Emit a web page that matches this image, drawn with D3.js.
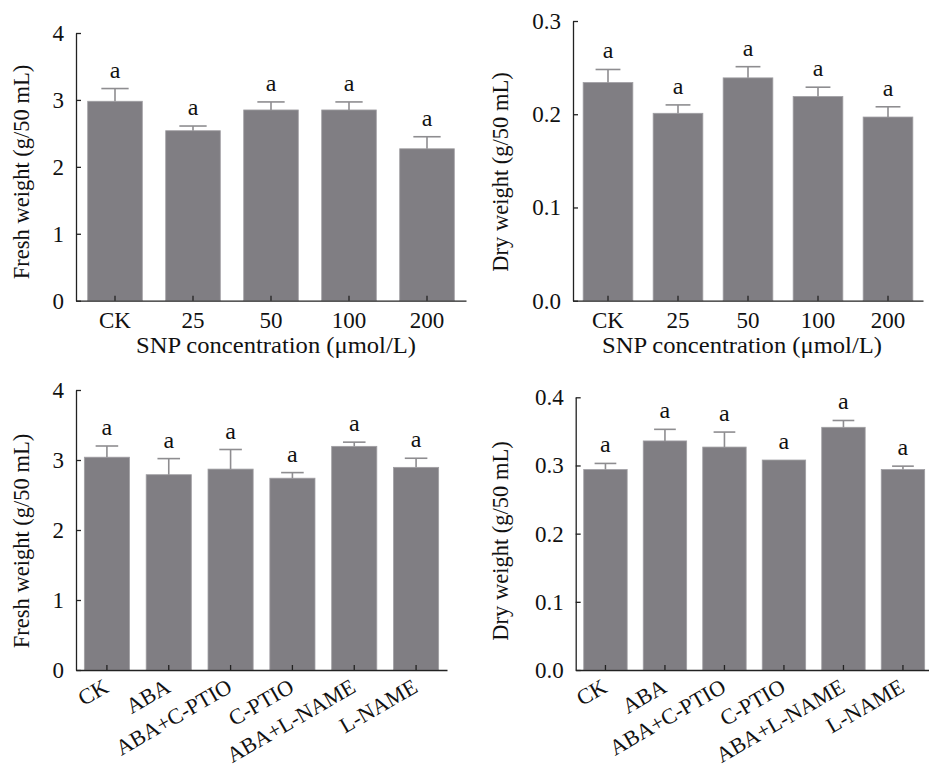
<!DOCTYPE html>
<html>
<head>
<meta charset="utf-8">
<script src="https://cdn.jsdelivr.net/npm/d3@7"></script>
<style>
  body { margin: 0; background: #fff; }
  svg { display: block; font-family: "Liberation Serif", "Times New Roman", serif; }
</style>
</head>
<body>
<div id="chart"></div>
<script>
// Data
var snpLabels = ["CK", "25", "50", "100", "200"];
var freshSNP = [2.98, 2.54, 2.85, 2.85, 2.27];
var freshSNPErr = [0.19, 0.07, 0.12, 0.12, 0.18];
var drySNP = [0.234, 0.201, 0.239, 0.219, 0.197];
var drySNPErr = [0.014, 0.009, 0.012, 0.010, 0.011];

var trtLabels = ["CK", "ABA", "ABA+C-PTIO", "C-PTIO", "ABA+L-NAME", "L-NAME"];
var freshTrt = [3.04, 2.79, 2.87, 2.74, 3.195, 2.895];
var freshTrtErr = [0.16, 0.23, 0.28, 0.08, 0.06, 0.13];
var dryTrt = [0.294, 0.336, 0.327, 0.308, 0.356, 0.294];
var dryTrtErr = [0.009, 0.017, 0.022, 0, 0.010, 0.005];

var freshTicks = [0, 1, 2, 3, 4];
var drySNPTicks = [0, 0.1, 0.2, 0.3];
var dryTrtTicks = [0, 0.1, 0.2, 0.3, 0.4];
var letters = ["a", "a", "a", "a", "a", "a"];

var svg = d3.select("#chart").append("svg")
  .attr("width", 929)
  .attr("height", 770);

var barColor = "#807e83";
var errColor = "#8e8d90";
var fontSize = 23;

//Panel settings: pixel box of each plot area
var panels = [
  { labels: snpLabels, values: freshSNP, errs: freshSNPErr, ticks: freshTicks, fmt: d3.format("d"),
    x0: 76, x1: 466, yTop: 33, yBot: 300.7, pad: 0.3, rotate: false,
    ylabel: "Fresh weight (g/50 mL)", ylx: 29, yly: 172, xlabel: "SNP concentration (\u03bcmol/L)", xlx: 276 },
  { labels: snpLabels, values: drySNP, errs: drySNPErr, ticks: drySNPTicks, fmt: d3.format(".1f"),
    x0: 573, x1: 923, yTop: 21, yBot: 300.7, pad: 0.29, rotate: false,
    ylabel: "Dry weight (g/50 mL)", ylx: 508, yly: 172, xlabel: "SNP concentration (\u03bcmol/L)", xlx: 742 },
  { labels: trtLabels, values: freshTrt, errs: freshTrtErr, ticks: freshTicks, fmt: d3.format("d"),
    x0: 76, x1: 447, yTop: 390, yBot: 670, pad: 0.27, rotate: true,
    ylabel: "Fresh weight (g/50 mL)", ylx: 29, yly: 541 },
  { labels: trtLabels, values: dryTrt, errs: dryTrtErr, ticks: dryTrtTicks, fmt: d3.format(".1f"),
    x0: 575.7, x1: 932.7, yTop: 397.3, yBot: 670, pad: 0.27, rotate: true,
    ylabel: "Dry weight (g/50 mL)", ylx: 508, yly: 541 }
];

panels.forEach(drawPanel);

function drawPanel(p) {
  var data = p.labels.map(function (d, i) {
    return { label: d, value: p.values[i], err: p.errs[i], letter: letters[i] };
  });

  var x = d3.scaleBand().domain(p.labels).range([p.x0, p.x1]).paddingInner(p.pad).paddingOuter(p.pad / 2);
  var y = d3.scaleLinear().domain([0, d3.max(p.ticks)]).range([p.yBot, p.yTop]);
  var g = svg.append("g");

  // bars
  g.selectAll(".bar")
    .data(data)
    .enter()
    .append("rect")
    .attr("x", function (d) { return x(d.label); })
    .attr("y", function (d) { return y(d.value); })
    .attr("width", x.bandwidth())
    .attr("height", function (d) { return y(0) - y(d.value); })
    .style("fill", barColor)
    .style("stroke", "#a09fa3")
    .style("stroke-width", 0.8);

  // error bars (upper only)
  var cap = x.bandwidth() * 0.25;
  var eb = g.selectAll(".err")
    .data(data.filter(function (d) { return d.err > 0; }))
    .enter()
    .append("g");
  eb.append("line")
    .attr("x1", function (d) { return x(d.label) + x.bandwidth() / 2; })
    .attr("x2", function (d) { return x(d.label) + x.bandwidth() / 2; })
    .attr("y1", function (d) { return y(d.value); })
    .attr("y2", function (d) { return y(d.value + d.err); });
  eb.append("line")
    .attr("x1", function (d) { return x(d.label) + x.bandwidth() / 2 - cap; })
    .attr("x2", function (d) { return x(d.label) + x.bandwidth() / 2 + cap; })
    .attr("y1", function (d) { return y(d.value + d.err); })
    .attr("y2", function (d) { return y(d.value + d.err); });
  eb.selectAll("line").style("stroke", errColor).style("stroke-width", 1.6);

  // significance letters
  g.selectAll(".letter")
    .data(data)
    .enter()
    .append("text")
    .attr("x", function (d) { return x(d.label) + x.bandwidth() / 2; })
    .attr("y", function (d) { return y(d.value + d.err) - 11; })
    .attr("text-anchor", "middle")
    .style("font-size", "24px")
    .style("fill", "#111")
    .text(function (d) { return d.letter; });

  // y axis
  var ya = g.append("g")
    .attr("transform", "translate(" + p.x0 + ",0)")
    .call(d3.axisLeft(y).tickValues(p.ticks).tickFormat(p.fmt).tickSize(-5).tickSizeOuter(0).tickPadding(12));
  ya.selectAll("text").style("font-size", fontSize + "px").style("font-family", "Liberation Serif").attr("fill", "#111");

  // x axis
  var xa = g.append("g")
    .attr("transform", "translate(0," + p.yBot + ")")
    .call(d3.axisBottom(x).tickSize(-5).tickSizeOuter(0).tickPadding(10.5));
  xa.selectAll("text").style("font-size", fontSize + "px").style("font-family", "Liberation Serif").attr("fill", "#111");
  if (p.rotate) {
    xa.selectAll(".tick text")
      .attr("x", 0)
      .attr("y", 0)
      .attr("dy", 0)
      .attr("text-anchor", "end")
      .style("font-size", "22px")
      .attr("transform", "translate(3,21) rotate(-30)");
  }
  [ya, xa].forEach(function (a) {
    a.selectAll("path, line").attr("stroke", "#222").style("stroke-width", 1.3);
  });

  // axis titles
  svg.append("text")
    .attr("transform", "translate(" + p.ylx + "," + p.yly + ") rotate(-90)")
    .attr("text-anchor", "middle")
    .style("font-size", "22.5px")
    .style("fill", "#111")
    .text(p.ylabel);

  if (p.xlabel) {
    svg.append("text")
      .attr("transform", "translate(" + p.xlx + "," + (p.yBot + 52) + ") scale(1.07,1)")
      .attr("text-anchor", "middle")
      .style("font-size", fontSize + "px")
      .style("fill", "#111")
      .text(p.xlabel);
  }
}
</script>
</body>
</html>
